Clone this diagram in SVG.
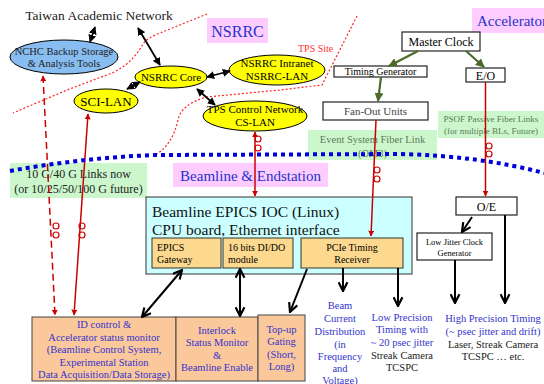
<svg xmlns="http://www.w3.org/2000/svg" width="544" height="384" viewBox="0 0 544 384">
<defs>
<style>
text{font-family:"Liberation Serif","Times New Roman",serif;}
.c{text-anchor:middle;}
.ell{fill:#ffff00;stroke:#000;stroke-width:1;}
.box{fill:#fff;stroke:#222;stroke-width:1.2;}
.sub{fill:#fcd98e;stroke:#333;stroke-width:1;}
.bot{fill:#fbc89b;stroke:#444;stroke-width:1;}
.green{fill:#ccf7cc;}
.pink{fill:#ffccff;}
.blk{stroke:#000;stroke-width:2;fill:none;}
.net{stroke:#000;stroke-width:1.8;fill:none;marker-start:url(#at);marker-end:url(#at);}
.red{stroke:#cc0000;stroke-width:1.5;fill:none;}
.grn{stroke:#4b6b2b;stroke-width:2.2;fill:none;marker-end:url(#ag);}
.loop{fill:none;stroke:#cc0000;stroke-width:1.2;}
.reddot{stroke:#ff2222;stroke-width:1.2;fill:none;stroke-dasharray:2,2;}
.bt{fill:#3333cc;font-size:10.5px;}
.kt{fill:#222;font-size:10.5px;}
</style>
<marker id="at" viewBox="0 0 10 10" refX="9" refY="5" markerWidth="8" markerHeight="8" markerUnits="userSpaceOnUse" orient="auto-start-reverse"><path d="M0,0 L10,5 L0,10 z" fill="#000"/></marker>
<marker id="ab" viewBox="0 0 10 10" refX="9" refY="5" markerWidth="11" markerHeight="11" markerUnits="userSpaceOnUse" orient="auto-start-reverse"><path d="M1,1 L9,5 L1,9" fill="none" stroke="#000" stroke-width="2"/></marker>
<marker id="ar" viewBox="0 0 10 10" refX="9" refY="5" markerWidth="6" markerHeight="6" markerUnits="userSpaceOnUse" orient="auto-start-reverse"><path d="M0,0 L10,5 L0,10 z" fill="#cc0000"/></marker>
<marker id="ag" viewBox="0 0 10 10" refX="9" refY="5" markerWidth="9" markerHeight="9" markerUnits="userSpaceOnUse" orient="auto-start-reverse"><path d="M0,0 L10,5 L0,10 z" fill="#4b6b2b"/></marker>
</defs>

<!-- region dotted borders -->
<path class="reddot" d="M207,14 L160,33 Q147,38 143,44 Q132,64 112,73 L67,90 L13,113"/>
<path class="reddot" d="M357,16 L322,85 L280,90 L207,97 Q181,104 178,120 Q172,146 155,155"/>
<text x="298" y="52" font-size="10" fill="#ff3333">TPS Site</text>

<!-- labels -->
<g id="lbl-nsrrc"><rect class="pink" x="207" y="18" width="61" height="25"/><text class="c" x="237.5" y="37" font-size="16" fill="#2233cc">NSRRC</text></g>
<g id="lbl-acc"><rect class="pink" x="472" y="8" width="74" height="25"/><text x="477" y="26" font-size="15" fill="#2233cc">Accelerator</text></g>
<g id="lbl-links"><rect class="green" x="10" y="163" width="137" height="35"/><text class="c" x="78.5" y="178" font-size="12" fill="#222">10 G/40 G Links now</text><text class="c" x="78.5" y="193" font-size="12" fill="#222">(or 10/25/50/100 G future)</text></g>
<g id="lbl-es"><rect class="green" x="308" y="130" width="129" height="30"/><text class="c" x="372.5" y="143" font-size="10.5" fill="#5a7a5a">Event System Fiber Link</text><text class="c" x="372.5" y="157" font-size="10.5" fill="#5a7a5a">(OM3)</text></g>
<g id="lbl-psof"><rect class="green" x="438" y="111" width="106" height="27"/><text class="c" x="491" y="122" font-size="9" fill="#5a7a5a">PSOF Passive  Fiber Links</text><text class="c" x="491" y="134" font-size="9" fill="#5a7a5a">(for multiple BLs, Future)</text></g>
<g id="lbl-bl"><rect class="pink" x="173" y="163" width="155" height="24"/><text class="c" x="250.5" y="181" font-size="15" fill="#2233cc">Beamline &amp; Endstation</text></g>

<!-- nodes: network -->
<g id="tanet"><text class="c" x="99" y="20" font-size="13.5" fill="#222">Taiwan Academic Network</text></g>
<g id="nchc"><ellipse cx="64" cy="57" rx="54" ry="17" fill="#87bdf0" stroke="#000"/><text class="c" x="64" y="55" font-size="10.5" fill="#222">NCHC Backup Storage</text><text class="c" x="64" y="67" font-size="10.5" fill="#222">&amp; Analysis Tools</text></g>
<g id="core"><ellipse class="ell" cx="171" cy="77" rx="36" ry="11"/><text class="c" x="171" y="81" font-size="11">NSRRC Core</text></g>
<g id="intranet"><ellipse class="ell" cx="277" cy="70" rx="48" ry="15"/><text class="c" x="277" y="67" font-size="11">NSRRC Intranet</text><text class="c" x="277" y="80" font-size="11">NSRRC-LAN</text></g>
<g id="scilan"><ellipse class="ell" cx="106" cy="101" rx="32" ry="12"/><text class="c" x="106" y="106" font-size="13">SCI-LAN</text></g>
<g id="cslan"><ellipse class="ell" cx="255" cy="116" rx="52" ry="15"/><text class="c" x="255" y="113" font-size="11">TPS Control Network</text><text class="c" x="255" y="126" font-size="11">CS-LAN</text></g>

<!-- nodes: accelerator timing -->
<g id="master"><rect class="box" x="402" y="32" width="78" height="19"/><text class="c" x="441" y="46" font-size="12">Master Clock</text></g>
<g id="tgen"><rect class="box" x="334" y="66" width="93" height="11"/><text class="c" x="380.5" y="75" font-size="10">Timing Generator</text></g>
<g id="eo"><rect class="box" x="466" y="68" width="39" height="14"/><text class="c" x="485.5" y="79.5" font-size="12">E/O</text></g>
<g id="fanout"><rect class="box" x="323" y="102" width="105" height="18"/><text class="c" x="375.5" y="115" font-size="11" fill="#444">Fan-Out Units</text></g>
<g id="oe"><rect class="box" x="456" y="197" width="61" height="18"/><text class="c" x="486.5" y="210.5" font-size="12">O/E</text></g>
<g id="ljc"><rect class="box" x="417" y="233" width="75" height="27"/><text class="c" x="454.5" y="245" font-size="8.5">Low Jitter Clock</text><text class="c" x="454.5" y="256" font-size="8.5">Generator</text></g>

<!-- IOC -->
<g id="ioc"><rect x="146" y="197" width="266" height="77" fill="#ccffff" stroke="#333" stroke-width="1"/><text x="152" y="217" font-size="15.5" fill="#111">Beamline EPICS IOC (Linux)</text><text x="152" y="235" font-size="15.5" fill="#111">CPU board, Ethernet interface</text></g>
<g id="gw"><rect class="sub" x="152" y="238" width="69" height="30"/><text x="157" y="251" font-size="10">EPICS</text><text x="157" y="263" font-size="10">Gateway</text></g>
<g id="dio"><rect class="sub" x="223" y="238" width="70" height="30"/><text x="228" y="251" font-size="10">16 bits DI/DO</text><text x="228" y="263" font-size="10">module</text></g>
<g id="pcie"><rect class="sub" x="301" y="238" width="102" height="30"/><text class="c" x="352" y="251" font-size="10">PCIe Timing</text><text class="c" x="352" y="263" font-size="10">Receiver</text></g>

<!-- bottom boxes -->
<g id="idc"><rect class="bot" x="32" y="317" width="144" height="64"/><text class="c bt" x="104" y="328">ID control &amp;</text><text class="c bt" x="104" y="341">Accelerator status monitor</text><text class="c bt" x="104" y="353">(Beamline  Control System,</text><text class="c bt" x="104" y="366">Experimental Station</text><text class="c bt" x="104" y="378">Data Acquisition/Data Storage)</text></g>
<g id="ilk"><rect class="bot" x="176" y="317" width="82" height="64"/><text class="c bt" x="217" y="334">Interlock</text><text class="c bt" x="217" y="346">Status Monitor</text><text class="c bt" x="217" y="359">&amp;</text><text class="c bt" x="217" y="371">Beamline Enable</text></g>
<g id="topup"><rect class="bot" x="258" y="315" width="47" height="66"/><text class="c bt" x="281.5" y="333">Top-up</text><text class="c bt" x="281.5" y="345">Gating</text><text class="c bt" x="281.5" y="358">(Short,</text><text class="c bt" x="281.5" y="370">Long)</text></g>

<!-- output labels -->
<g id="beamcur"><text class="c bt" x="340" y="309">Beam</text><text class="c bt" x="340" y="322">Current</text><text class="c bt" x="340" y="335">Distribution</text><text class="c bt" x="340" y="348">(in</text><text class="c bt" x="340" y="360">Frequency</text><text class="c bt" x="340" y="372">and</text><text class="c bt" x="340" y="384">Voltage)</text></g>
<g id="lowprec"><text class="c bt" x="402" y="321">Low Precision</text><text class="c bt" x="402" y="333">Timing with</text><text class="c bt" x="402" y="346">~ 20 psec jitter</text><text class="c kt" x="402" y="359">Streak Camera</text><text class="c kt" x="402" y="371">TCSPC</text></g>
<g id="highprec"><text class="c bt" x="493" y="322">High Precision Timing</text><text class="c bt" x="493" y="335">(~ psec jitter and drift)</text><text class="c kt" x="493" y="348">Laser, Streak Camera</text><text class="c kt" x="493" y="360">TCSPC … etc.</text></g>

<!-- connectors -->
<g id="connectors">
<line class="net" x1="95" y1="27" x2="90" y2="42"/>
<line class="net" x1="138" y1="28" x2="160" y2="65"/>
<line class="net" x1="207" y1="77" x2="230" y2="71"/>
<line class="net" x1="140" y1="82" x2="127" y2="89"/>
<line class="net" x1="197" y1="89" x2="215" y2="105"/>

<line class="grn" x1="418" y1="51" x2="389" y2="66"/>
<line class="grn" x1="466" y1="51" x2="484" y2="67"/>
<line class="grn" x1="381" y1="77" x2="378" y2="101"/>

<line class="red" x1="485.5" y1="82" x2="485.5" y2="196" marker-end="url(#ar)"/>
<line class="red" x1="376" y1="120" x2="371" y2="236" marker-end="url(#ar)"/>
<line class="red" x1="255" y1="132" x2="255" y2="196" marker-start="url(#ar)" marker-end="url(#ar)"/>
<line class="red" x1="43" y1="76" x2="55" y2="315" stroke-dasharray="7,4" stroke-width="1.8" marker-start="url(#ar)" marker-end="url(#ar)"/>
<line class="red" x1="88" y1="114" x2="74" y2="315" marker-start="url(#ar)" marker-end="url(#ar)"/>
<circle class="loop" cx="489" cy="146" r="3"/><circle class="loop" cx="489" cy="154" r="3"/>
<circle class="loop" cx="377" cy="170" r="3"/><circle class="loop" cx="377" cy="179" r="3"/>
<circle class="loop" cx="258" cy="139" r="3"/><circle class="loop" cx="258" cy="148" r="3"/>
<circle class="loop" cx="56" cy="226" r="3"/><circle class="loop" cx="56" cy="235" r="3"/>
<circle class="loop" cx="82" cy="226" r="3"/><circle class="loop" cx="82" cy="235" r="3"/>

<line class="blk" x1="472" y1="217" x2="462" y2="232" marker-end="url(#ab)"/>
<line class="blk" x1="505" y1="215" x2="505" y2="303" marker-end="url(#ab)"/>
<line class="blk" x1="455" y1="260" x2="455" y2="303" marker-end="url(#ab)"/>
<line class="blk" x1="307" y1="269" x2="290" y2="312" marker-end="url(#ab)"/>
<line class="blk" x1="343" y1="268" x2="343" y2="291" marker-end="url(#ab)"/>
<line class="blk" x1="398" y1="268" x2="398" y2="306" marker-end="url(#ab)"/>
<line class="blk" x1="182" y1="270" x2="142" y2="317" marker-start="url(#ab)" marker-end="url(#ab)"/>
<line class="blk" x1="240" y1="269" x2="240" y2="316" marker-start="url(#ab)" marker-end="url(#ab)"/>
</g>

<!-- site boundary -->
<path d="M10,171 Q80,158 155,155 L400,154 Q480,156 544,173" fill="none" stroke="#0000dd" stroke-width="4" stroke-dasharray="4,4"/>
</svg>
